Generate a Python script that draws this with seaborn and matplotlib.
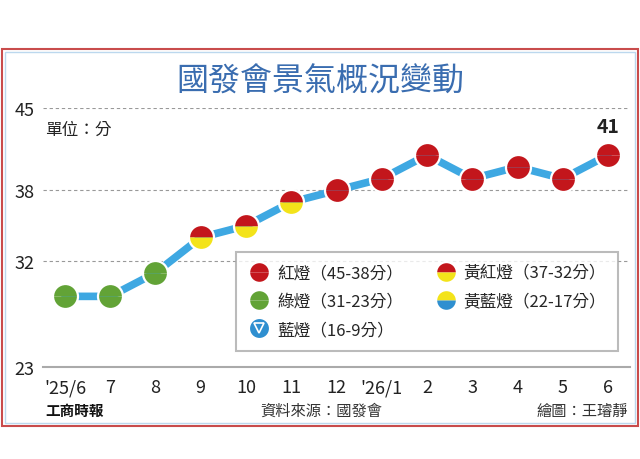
import matplotlib.pyplot as plt
import seaborn as sns
from matplotlib.lines import Line2D
from matplotlib.legend_handler import HandlerTuple
from matplotlib.patches import Rectangle

# ----------------------------------------------------------
# Data
# ----------------------------------------------------------

MONTHS = ["'25/6", "7", "8", "9", "10", "11", "12", "'26/1", "2", "3", "4", "5", "6"]
SCORES = [29, 29, 31, 34, 35, 37, 38, 39, 41, 39, 40, 39, 41]
LIGHTS = ["green", "green", "green", "yellow_red", "yellow_red", "yellow_red",
          "red", "red", "red", "red", "red", "red", "red"]

Y_TICKS = [23, 32, 38, 45]

LEGEND_ORDER = ["red", "green", "blue", "yellow_red", "yellow_blue"]
LEGEND_LABELS = ["紅燈（45-38分）", "綠燈（31-23分）", "藍燈（16-9分）",
                 "黃紅燈（37-32分）", "黃藍燈（22-17分）"]

# ----------------------------------------------------------
# Styles
# ----------------------------------------------------------

RED = "#c3161c"
GREEN = "#62a336"
YELLOW = "#f3e31a"
BLUE = "#2f8fd0"
LINE_BLUE = "#3ea8e2"
TITLE_BLUE = "#3a6db0"

# (upper face, lower face) per light
LIGHT_STYLE = {
    "red": (RED, RED),
    "green": (GREEN, GREEN),
    "yellow_red": (RED, YELLOW),
    "yellow_blue": (YELLOW, BLUE),
}


def light_marker(light, size):
    upper, lower = LIGHT_STYLE[light]
    ball = dict(marker="o", markersize=size, linestyle="none",
                fillstyle="top", markerfacecolor=upper,
                markerfacecoloralt=lower, markeredgewidth=0)
    ring = dict(marker="o", markersize=size, linestyle="none",
                markerfacecolor="none", markeredgecolor="white",
                markeredgewidth=1.6)
    return ball, ring


sns.set_theme(style="white")
plt.rcParams["font.family"] = ["Noto Sans CJK TC", "DejaVu Sans"]

fig = plt.figure(figsize=(6.4, 4.6), dpi=100)
ax = fig.add_axes([43 / 640, 1 - 368 / 460, 587 / 640, 259 / 460])

idx = list(range(len(MONTHS)))

sns.lineplot(x=idx, y=SCORES, color=LINE_BLUE, linewidth=5.5, ax=ax,
             solid_joinstyle="round", zorder=2)

for i, (v, light) in enumerate(zip(SCORES, LIGHTS)):
    ball, ring = light_marker(light, 18)
    ax.plot(i, v, zorder=3, **ball)
    ax.plot(i, v, zorder=4, **ring)

ax.annotate(str(SCORES[-1]), (idx[-1], SCORES[-1]), xytext=(0, 14),
            textcoords="offset points", ha="center", va="bottom",
            fontsize=14, fontweight="bold", color="#222222")

# axes
ax.set_xlim(-0.486, len(MONTHS) - 0.514)
ax.set_ylim(Y_TICKS[0], Y_TICKS[-1])
ax.set_yticks(Y_TICKS)
ax.set_xticks(idx)
ax.set_xticklabels(MONTHS)
ax.tick_params(axis="x", direction="out", length=5, width=1.2, color="#aaaaaa",
               labelsize=13, pad=3, labelcolor="#222222")
ax.tick_params(axis="y", length=0, labelsize=13, pad=6, labelcolor="#222222")
for s in ["top", "right", "left"]:
    ax.spines[s].set_visible(False)
ax.spines["bottom"].set_color("#aaaaaa")
ax.spines["bottom"].set_linewidth(1.5)
for y in Y_TICKS[1:]:
    ax.axhline(y, color="#999999", linewidth=0.8, linestyle=(0, (3, 2.5)), zorder=1)
ax.set_xlabel("")
ax.set_ylabel("")

# legend
handles = []
for key in LEGEND_ORDER:
    if key == "blue":
        h = (Line2D([], [], marker="o", markersize=15, markerfacecolor=BLUE,
                    markeredgecolor="white", markeredgewidth=1.4, linestyle="none"),
             Line2D([], [], marker="v", markersize=7, markerfacecolor=BLUE,
                    markeredgecolor="white", markeredgewidth=1.2, linestyle="none"))
    else:
        ball, ring = light_marker(key, 15)
        h = (Line2D([], [], **ball), Line2D([], [], **ring))
    handles.append(h)

leg = ax.legend(handles, LEGEND_LABELS, ncol=2,
                loc="upper left", bbox_to_anchor=(0.329, 0.444, 0.651, 0.0),
                mode="expand", borderaxespad=0, fontsize=12, frameon=True,
                fancybox=False, handlelength=1.3, handletextpad=0.4,
                labelspacing=0.68, borderpad=0.75, columnspacing=1.0,
                handler_map={tuple: HandlerTuple(ndivide=1)})
leg.get_frame().set_edgecolor("#aaaaaa")
leg.get_frame().set_linewidth(1.5)
leg.get_frame().set_facecolor("white")
leg.set_zorder(5)

# titles and notes
fig.text(0.5, 1 - 82 / 460, "國發會景氣概況變動", ha="center", va="center",
         fontsize=23, fontweight="medium", color=TITLE_BLUE)
fig.text(45 / 640, 1 - 130 / 460, "單位：分", ha="left", va="center",
         fontsize=12, color="#222222")
fig.text(45 / 640, 1 - 411 / 460, "工商時報", ha="left", va="center",
         fontsize=10.5, fontweight="bold", color="#111111")
fig.text(321 / 640, 1 - 411 / 460, "資料來源：國發會", ha="center", va="center",
         fontsize=11, color="#333333")
fig.text(628 / 640, 1 - 411 / 460, "繪圖：王璿靜", ha="right", va="center",
         fontsize=11, color="#333333")

# frame
fig.patches.append(Rectangle((2 / 640, 1 - 427 / 460), 636 / 640, 377 / 460,
                             transform=fig.transFigure, fill=False,
                             edgecolor="#c94c4c", linewidth=1.5))
fig.patches.append(Rectangle((5 / 640, 1 - 424 / 460), 630 / 640, 371 / 460,
                             transform=fig.transFigure, fill=False,
                             edgecolor="#bcd8ee", linewidth=1.0))

fig.savefig("out.png", dpi=100)
